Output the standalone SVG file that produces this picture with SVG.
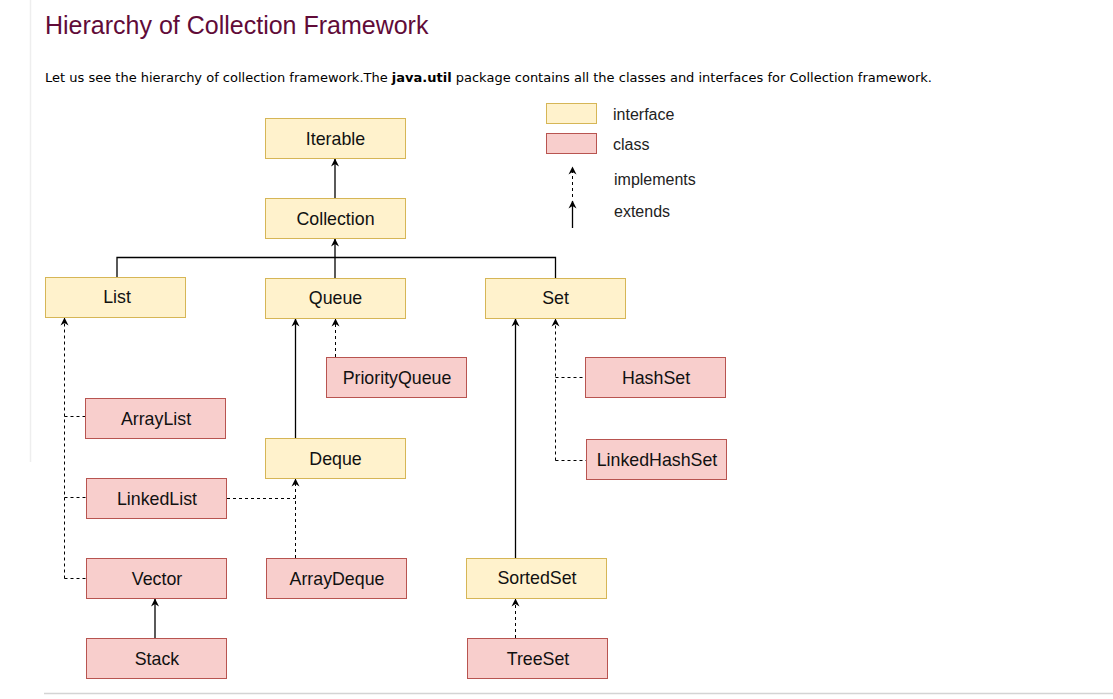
<svg xmlns="http://www.w3.org/2000/svg" width="1113" height="699" viewBox="0 0 1113 699">
<defs>
<marker id="arr" markerWidth="10" markerHeight="10" refX="8" refY="5" orient="auto" markerUnits="userSpaceOnUse">
<path d="M0.5,1 L8.5,5 L0.5,9 L3,5 Z" fill="#000"/>
</marker>
</defs>
<style>
.i{fill:#fff2cc;stroke:#d6b656;stroke-width:1}
.c{fill:#f8cecc;stroke:#b85450;stroke-width:1}
.t{font-family:"Liberation Sans",Arial,sans-serif;font-size:17.8px;fill:#111;text-anchor:middle}
.s{stroke:#000;stroke-width:1.3;fill:none}
.d{stroke:#000;stroke-width:1;fill:none;stroke-dasharray:3 3}
.lg{font-family:"Liberation Sans",Arial,sans-serif;font-size:16px;fill:#222}
</style>
<rect width="1113" height="699" fill="#fff"/>
<line x1="30.5" y1="0" x2="30.5" y2="462" stroke="#eee" stroke-width="1.5"/>
<line x1="44" y1="693.5" x2="1113" y2="693.5" stroke="#d4d4d4" stroke-width="1.5"/>
<text x="45" y="34" font-family="'Liberation Sans',Arial,sans-serif" font-size="25" fill="#610B38">Hierarchy of Collection Framework</text>
<text x="45" y="82" font-family="'DejaVu Sans',Verdana,sans-serif" font-size="13" fill="#000" textLength="887" lengthAdjust="spacingAndGlyphs">Let us see the hierarchy of collection framework.The <tspan font-weight="bold">java.util</tspan> package contains all the classes and interfaces for Collection framework.</text>

<g id="legend">
<rect class="i" x="546.5" y="103.5" width="50" height="20"/>
<rect class="c" x="546.5" y="133.5" width="50" height="20"/>
<text class="lg" x="613" y="120">interface</text>
<text class="lg" x="613" y="150">class</text>
<line class="d" x1="572.5" y1="197" x2="572.5" y2="167" marker-end="url(#arr)"/>
<text class="lg" x="614" y="185">implements</text>
<line class="s" x1="572.5" y1="228" x2="572.5" y2="201" marker-end="url(#arr)"/>
<text class="lg" x="614" y="217">extends</text>
</g>

<g id="connectors">
<line class="s" x1="335" y1="198" x2="335" y2="159" marker-end="url(#arr)"/>
<polyline class="s" points="117,277 117,257.5 555.5,257.5 555.5,278"/>
<line class="s" x1="335" y1="278" x2="335" y2="239" marker-end="url(#arr)"/>
<line class="s" x1="295.5" y1="438" x2="295.5" y2="319" marker-end="url(#arr)"/>
<line class="d" x1="335.5" y1="357" x2="335.5" y2="319" marker-end="url(#arr)"/>
<line class="d" x1="64.5" y1="578.5" x2="64.5" y2="318" marker-end="url(#arr)"/>
<line class="d" x1="64.5" y1="416.5" x2="85" y2="416.5"/>
<line class="d" x1="64.5" y1="497.5" x2="86" y2="497.5"/>
<line class="d" x1="64.5" y1="578.5" x2="86" y2="578.5"/>
<polyline class="d" points="227,498.5 295.5,498.5"/>
<line class="d" x1="295.5" y1="558" x2="295.5" y2="479" marker-end="url(#arr)"/>
<line class="s" x1="515.5" y1="558" x2="515.5" y2="319" marker-end="url(#arr)"/>
<line class="d" x1="555.5" y1="460.5" x2="555.5" y2="319" marker-end="url(#arr)"/>
<line class="d" x1="555.5" y1="377.5" x2="585" y2="377.5"/>
<line class="d" x1="555.5" y1="460.5" x2="586" y2="460.5"/>
<line class="s" x1="155" y1="638" x2="155" y2="599" marker-end="url(#arr)"/>
<line class="d" x1="515.5" y1="638" x2="515.5" y2="599" marker-end="url(#arr)"/>
</g>

<g id="Iterable"><rect class="i" x="265.5" y="118.5" width="140" height="40"/><text class="t" x="335.5" y="145">Iterable</text></g>
<g id="Collection"><rect class="i" x="265.5" y="198.5" width="140" height="40"/><text class="t" x="335.5" y="225">Collection</text></g>
<g id="List"><rect class="i" x="45.5" y="277.5" width="140" height="40"/><text class="t" x="117" y="303">List</text></g>
<g id="Queue"><rect class="i" x="265.5" y="278.5" width="140" height="40"/><text class="t" x="335.5" y="304">Queue</text></g>
<g id="Set"><rect class="i" x="485.5" y="278.5" width="140" height="40"/><text class="t" x="555.5" y="304">Set</text></g>
<g id="PriorityQueue"><rect class="c" x="326.5" y="357.5" width="140" height="40"/><text class="t" x="397" y="384">PriorityQueue</text></g>
<g id="HashSet"><rect class="c" x="585.5" y="357.5" width="140" height="40"/><text class="t" x="656" y="384">HashSet</text></g>
<g id="ArrayList"><rect class="c" x="85.5" y="398.5" width="140" height="40"/><text class="t" x="156" y="425">ArrayList</text></g>
<g id="Deque"><rect class="i" x="265.5" y="438.5" width="140" height="40"/><text class="t" x="335.5" y="465">Deque</text></g>
<g id="LinkedHashSet"><rect class="c" x="586.5" y="439.5" width="140" height="40"/><text class="t" x="657" y="466">LinkedHashSet</text></g>
<g id="LinkedList"><rect class="c" x="86.5" y="478.5" width="140" height="40"/><text class="t" x="157" y="505">LinkedList</text></g>
<g id="Vector"><rect class="c" x="86.5" y="558.5" width="140" height="40"/><text class="t" x="157" y="585">Vector</text></g>
<g id="ArrayDeque"><rect class="c" x="266.5" y="558.5" width="140" height="40"/><text class="t" x="337" y="585">ArrayDeque</text></g>
<g id="SortedSet"><rect class="i" x="466.5" y="558.5" width="140" height="40"/><text class="t" x="537" y="584">SortedSet</text></g>
<g id="Stack"><rect class="c" x="86.5" y="638.5" width="140" height="40"/><text class="t" x="157" y="665">Stack</text></g>
<g id="TreeSet"><rect class="c" x="467.5" y="638.5" width="140" height="40"/><text class="t" x="538" y="665">TreeSet</text></g>
</svg>
